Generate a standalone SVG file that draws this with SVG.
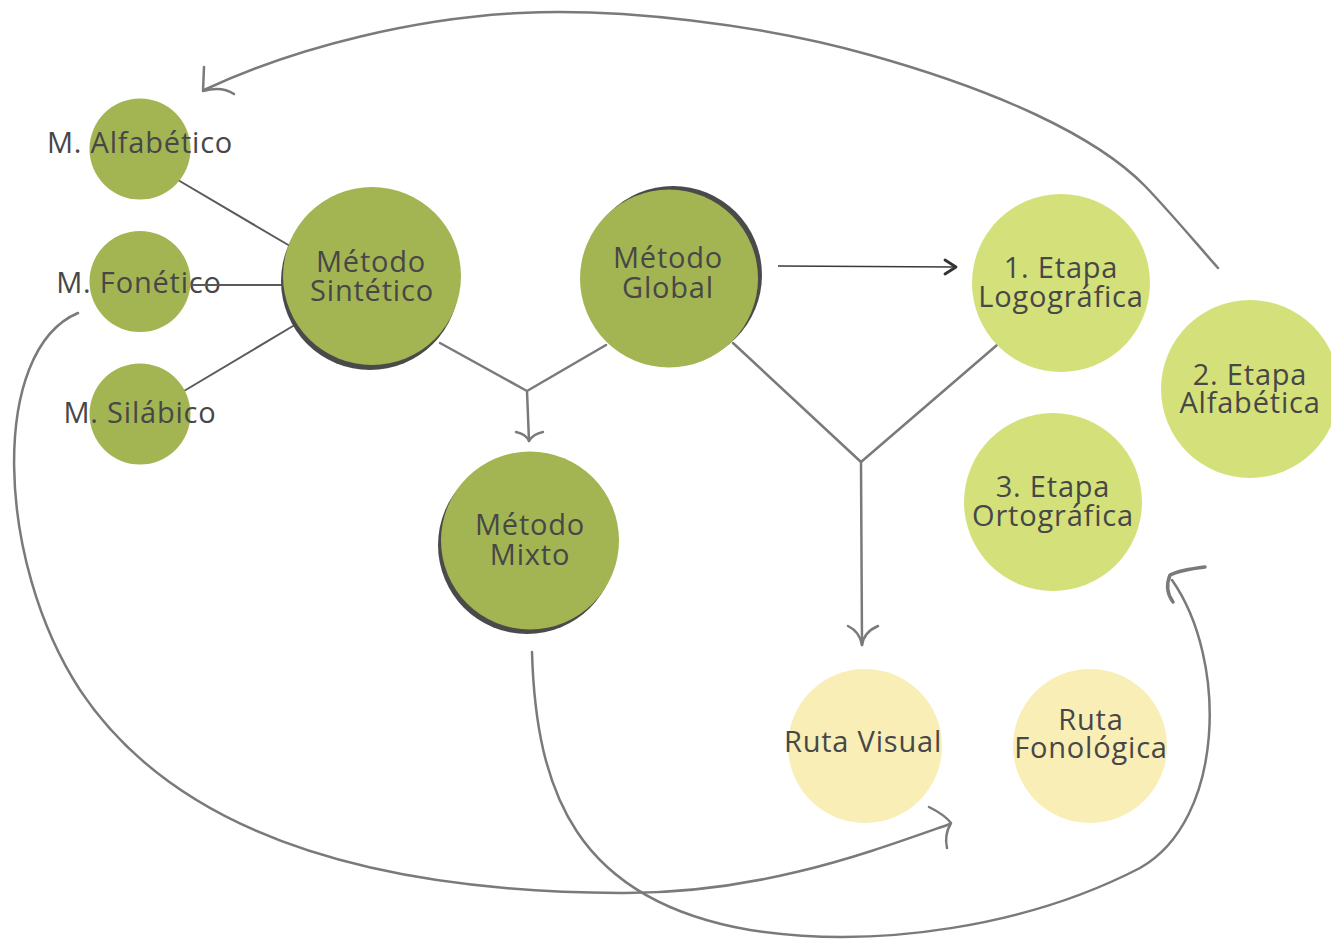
<svg xmlns="http://www.w3.org/2000/svg" width="1331" height="939" viewBox="0 0 1331 939">
  <style>
    .lbl { font-family: "Open Sans", "Noto Sans", "Liberation Sans", sans-serif; font-size: 29px; letter-spacing: 0.8px; fill: #474747; text-anchor: middle; }
    .dark { fill: #a3b552; }
    .light { fill: #d4e17b; }
    .pale { fill: #f9eeb6; }
    .shadow { fill: #4a4a4a; }
    .thin { fill: none; stroke: #5a5a5a; stroke-width: 2; stroke-linecap: round; }
    .grey { fill: none; stroke: #7a7a7a; stroke-width: 2.5; stroke-linecap: round; stroke-linejoin: round; }
    .head { fill: none; stroke: #7a7a7a; stroke-width: 3.5; stroke-linecap: round; stroke-linejoin: round; }
  </style>

  <!-- connectors -->
  <g id="connectors">
    <!-- spokes from the synthetic method to its sub-methods -->
    <line class="thin" x1="178" y1="180" x2="290" y2="246"/>
    <line class="thin" x1="192" y1="285" x2="284" y2="285"/>
    <line class="thin" x1="184" y1="391" x2="293" y2="326"/>

    <!-- synthetic + global merge into mixed -->
    <path class="grey" d="M440,343 L527,391 L606,345 M527,391 L529,441"/>
    <path class="grey" d="M516,432 Q526,434 529,441 Q533,434 543,432"/>

    <!-- global to logographic stage -->
    <line x1="778" y1="266" x2="955" y2="267" stroke="#3a3a3a" stroke-width="1.6"/>
    <path d="M945,260 L956,267 L945,274" fill="none" stroke="#333" stroke-width="2.8" stroke-linecap="round" stroke-linejoin="round"/>

    <!-- global + logographic merge into visual route -->
    <path class="grey" d="M733,343 L861,462 L997,345 M861,462 L862,645"/>
    <path class="grey" d="M848,626 Q860,632 862,645 Q864,632 878,626"/>

    <!-- alphabetic stage back to alphabetic method -->
    <path class="grey" d="M1218,268 C1195,242 1170,212 1145,186 C1095,135 995,90 870,55 C760,24 620,8 520,13 C420,18 300,45 204,90"/>
    <path class="grey" d="M204,67 L203,91 Q222,86 234,94"/>

    <!-- phonetic method to visual route -->
    <path class="grey" d="M78,313 C-10,350 -5,560 80,690 C190,855 420,892 620,893 C760,894 870,852 950,824"/>
    <path class="grey" d="M929,807 Q945,815 951,823 Q944,835 947,848"/>

    <!-- mixed method to orthographic stage -->
    <path class="grey" d="M532,652 C536,790 575,900 750,930 C880,950 1030,925 1140,868 C1225,820 1228,660 1172,580"/>
    <path class="head" d="M1205,567 Q1180,570 1170,575 Q1164,590 1173,602"/>
  </g>

  <!-- nodes -->
  <g id="m-alfabetico">
    <circle class="dark" cx="140" cy="149" r="50.5"/>
    <text class="lbl" x="140" y="153">M. Alfabético</text>
  </g>
  <g id="m-fonetico">
    <circle class="dark" cx="140" cy="281.5" r="50.5"/>
    <text class="lbl" x="139" y="293">M. Fonético</text>
  </g>
  <g id="m-silabico">
    <circle class="dark" cx="140" cy="414" r="50.5"/>
    <text class="lbl" x="140" y="423">M. Silábico</text>
  </g>
  <line class="thin" x1="192" y1="285" x2="222" y2="285"/>

  <g id="metodo-sintetico">
    <circle class="shadow" cx="370" cy="281" r="89"/>
    <circle class="dark" cx="372" cy="276" r="89"/>
    <text class="lbl"><tspan x="371" y="272">Método</tspan><tspan x="372" y="301">Sintético</tspan></text>
  </g>
  <g id="metodo-global">
    <circle class="shadow" cx="673" cy="275" r="89"/>
    <circle class="dark" cx="669" cy="278.5" r="89"/>
    <text class="lbl"><tspan x="668" y="268">Método</tspan><tspan x="668" y="298">Global</tspan></text>
  </g>
  <g id="metodo-mixto">
    <circle class="shadow" cx="527" cy="545" r="89"/>
    <circle class="dark" cx="530" cy="540.5" r="89"/>
    <text class="lbl"><tspan x="530" y="535">Método</tspan><tspan x="530" y="565">Mixto</tspan></text>
  </g>

  <g id="etapa-logografica">
    <circle class="light" cx="1061" cy="283" r="89"/>
    <text class="lbl"><tspan x="1061" y="278">1. Etapa</tspan><tspan x="1061" y="307">Logográfica</tspan></text>
  </g>
  <g id="etapa-alfabetica">
    <circle class="light" cx="1250" cy="389" r="89"/>
    <text class="lbl"><tspan x="1250" y="385">2. Etapa</tspan><tspan x="1250" y="413">Alfabética</tspan></text>
  </g>
  <g id="etapa-ortografica">
    <circle class="light" cx="1053" cy="502" r="89"/>
    <text class="lbl"><tspan x="1053" y="497">3. Etapa</tspan><tspan x="1053" y="526">Ortográfica</tspan></text>
  </g>

  <g id="ruta-visual">
    <circle class="pale" cx="865" cy="746" r="77"/>
    <text class="lbl" x="863" y="752">Ruta Visual</text>
  </g>
  <g id="ruta-fonologica">
    <circle class="pale" cx="1090" cy="746" r="77"/>
    <text class="lbl"><tspan x="1091" y="730">Ruta</tspan><tspan x="1091" y="758">Fonológica</tspan></text>
  </g>
</svg>
